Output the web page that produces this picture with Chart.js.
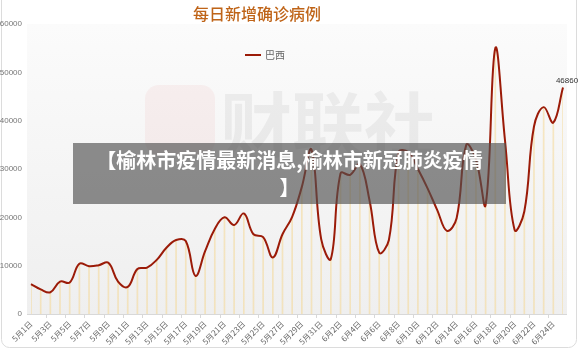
<!DOCTYPE html>
<html><head><meta charset="utf-8">
<script src="https://cdn.jsdelivr.net/npm/chart.js@4/dist/chart.umd.min.js"></script>
<style>
html,body{margin:0;padding:0;background:#fff;}
#wrap{position:relative;width:580px;height:349px;overflow:hidden;}
#banner{position:absolute;left:73px;top:143px;width:433px;height:61px;background:rgba(80,80,80,0.65);color:#fff;font-family:"Noto Sans CJK SC","Noto Sans",sans-serif;font-weight:bold;font-size:20px;line-height:27px;text-align:center;padding-top:3px;box-sizing:border-box;}
</style></head>
<body><div id="wrap"><canvas id="c" width="580" height="349"></canvas>
<div id="banner">【榆林市疫情最新消息,榆林市新冠肺炎疫情<br>】</div></div>
<script>
const titleText = "每日新增确诊病例";
const seriesName = "巴西";
const categories = ["5月1日","5月2日","5月3日","5月4日","5月5日","5月6日","5月7日","5月8日","5月9日","5月10日",
"5月11日","5月12日","5月13日","5月14日","5月15日","5月16日","5月17日","5月18日","5月19日","5月20日",
"5月21日","5月22日","5月23日","5月24日","5月25日","5月26日","5月27日","5月28日","5月29日","5月30日","5月31日",
"6月1日","6月2日","6月3日","6月4日","6月5日","6月6日","6月7日","6月8日","6月9日","6月10日",
"6月11日","6月12日","6月13日","6月14日","6月15日","6月16日","6月17日","6月18日","6月19日","6月20日",
"6月21日","6月22日","6月23日","6月24日","6月25日"];
const brazilCases = [6200,5100,4500,6700,6500,10400,9900,10100,10600,6700,
5600,9300,9600,11200,13700,15300,15100,7900,13000,17600,
20000,18400,20800,16500,15900,11700,16500,20100,26300,34000,15500,
11400,29100,28800,31000,23500,12700,15300,33500,33500,30000,
26000,21500,17200,19800,35000,32000,22600,55000,36000,17400,
21200,38800,42800,39600,46860];
const yTicks = [0,10000,20000,30000,40000,50000,60000];

const deco = {
  id:'deco',
  beforeDraw(chart){
    const ctx = chart.ctx, a = chart.chartArea;
    ctx.save();
    ctx.strokeStyle = '#dcdcdc'; ctx.lineWidth = 1;
    ctx.beginPath(); ctx.roundRect(1.5,-20,575,367.5,8); ctx.stroke();
    const g = ctx.createLinearGradient(0,a.top,0,a.bottom);
    g.addColorStop(0,'#fbfbfb'); g.addColorStop(1,'#efefef');
    ctx.fillStyle = g;
    ctx.fillRect(a.left-4,a.top,a.right-a.left+8,a.bottom-a.top);
    // faint watermark
    ctx.globalAlpha = 0.05;
    ctx.fillStyle = '#e02020';
    ctx.beginPath(); ctx.roundRect(145,85,70,70,14); ctx.fill();
    ctx.fillStyle = '#000';
    ctx.font = 'bold 72px "Noto Sans CJK SC"';
    ctx.textBaseline = 'middle'; ctx.textAlign='left';
    ctx.fillText('财联社',220,125);
    ctx.restore();
  },
  afterDraw(chart){
    const ctx = chart.ctx, a = chart.chartArea;
    ctx.save();
    ctx.strokeStyle = '#d8d8d8'; ctx.lineWidth = 1;
    ctx.beginPath(); ctx.moveTo(a.left-4,a.bottom+0.5); ctx.lineTo(a.right+4,a.bottom+0.5); ctx.stroke();
    const xs = chart.scales.x;
    const step = xs.getPixelForValue(1)-xs.getPixelForValue(0);
    ctx.beginPath();
    for(let i=0;i<categories.length;i+=2){
      const x = Math.round(xs.getPixelForValue(i)+step*1.5)+0.5;
      if (x> a.right+4) break;
      ctx.moveTo(x,a.bottom); ctx.lineTo(x,a.bottom+4);
    }
    ctx.stroke();
    ctx.fillStyle = '#bf6418';
    ctx.font = '500 16px "Noto Sans CJK SC"';
    ctx.textAlign='center'; ctx.textBaseline='middle';
    ctx.fillText(titleText,257,14);
    ctx.strokeStyle = '#9b1b08'; ctx.lineWidth = 2;
    ctx.beginPath(); ctx.moveTo(245,55); ctx.lineTo(261,55); ctx.stroke();
    ctx.fillStyle = '#666'; ctx.font = '10px "Noto Sans CJK SC"'; ctx.textAlign='left';
    ctx.fillText(seriesName,265,55);
    const meta = chart.getDatasetMeta(1);
    const p = meta.data[meta.data.length-1];
    ctx.fillStyle = '#333'; ctx.font = '8px "Liberation Sans"'; ctx.textAlign='center'; ctx.textBaseline='bottom';
    ctx.fillText(String(brazilCases[brazilCases.length-1]), p.x+4, p.y-3);
    ctx.restore();
  }
};

new Chart(document.getElementById('c'),{
  data:{
    labels:categories,
    datasets:[
      {type:'bar',data:brazilCases,backgroundColor:'rgba(246,214,140,0.5)',barThickness:1,order:2},
      {type:'line',label:seriesName,data:brazilCases,borderColor:'#9b1b08',borderWidth:2,tension:0.4,pointRadius:0,fill:false,order:1}
    ]
  },
  options:{
    responsive:false,animation:false,
    layout:{padding:{top:24,right:17,left:0,bottom:0}},
    plugins:{legend:{display:false},title:{display:false},tooltip:{enabled:false}},
    scales:{
      x:{type:'category',offset:false,grid:{display:false,drawTicks:false},border:{display:false},
        ticks:{autoSkip:false,maxRotation:45,minRotation:45,padding:5,color:'#666',font:{size:8,family:'"Noto Sans CJK SC"'},
          callback:(v,i)=> i%2===0 ? categories[i] : ''},
        afterFit:s=>{s.height=35;}},
      y:{min:0,max:60000,grid:{display:false,drawTicks:false},border:{display:false},
        afterBuildTicks:s=>{s.ticks=yTicks.map(v=>({value:v}));},
        ticks:{padding:9,color:'#777',font:{size:8,family:'"Liberation Sans"'},callback:v=>String(v)},
        afterFit:s=>{s.width=31;}}
    }
  },
  plugins:[deco]
});
</script></body></html>
